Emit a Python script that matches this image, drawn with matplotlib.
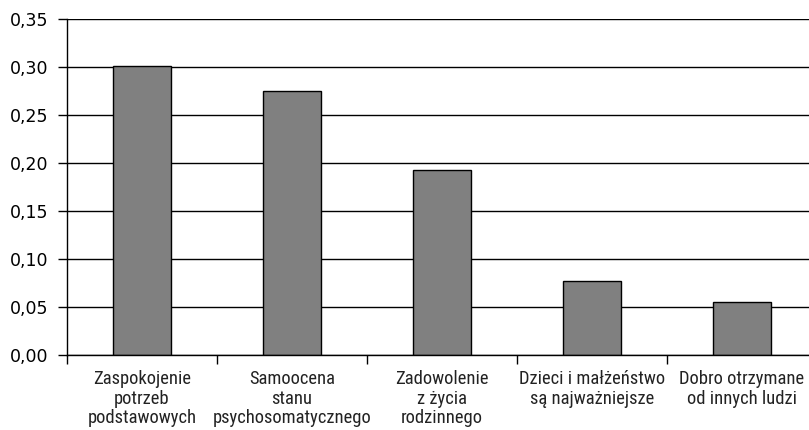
import numpy as np
import matplotlib.pyplot as plt
from matplotlib import font_manager
from matplotlib.font_manager import FontProperties

categories = [
    'Zaspokojenie\npotrzeb\npodstawowych',
    'Samoocena\nstanu\npsychosomatycznego',
    'Zadowolenie\nz życia\nrodzinnego',
    'Dzieci i małżeństwo\nsą najważniejsze',
    'Dobro otrzymane\nod innych ludzi',
]
values = [0.301, 0.275, 0.193, 0.077, 0.055]
y_ticks = [0.00, 0.05, 0.10, 0.15, 0.20, 0.25, 0.30, 0.35]


def narrow_font():
    # look for a condensed sans face, else plain Liberation Sans
    fonts = font_manager.fontManager.ttflist
    wanted = ['LiberationSansNarrow-Regular', 'RobotoCondensed-Regular',
              'DejaVuSansCondensed.ttf', 'NotoSans-Condensed',
              'OpenSans-Condensed', 'OpenSans_Condensed-Regular']
    for w in wanted:
        for f in fonts:
            if w.lower() in f.fname.lower().replace(' ', ''):
                return FontProperties(fname=f.fname)
    for f in fonts:
        if (f.stretch in ('condensed', 'semi-condensed') and
                f.style == 'normal' and f.weight in (400, 'normal', 'regular')):
            return FontProperties(fname=f.fname)
    return FontProperties(family='Liberation Sans')


def main():
    fig = plt.figure(figsize=(8.09, 4.30), dpi=100)
    # right edge runs past the figure like in the original
    ax = fig.add_axes([67 / 809, 75 / 430, 750 / 809, 336 / 430])

    index = np.arange(len(categories))
    ax.bar(index, values, 0.39, color='#808080', edgecolor='black',
           linewidth=1, zorder=3)

    ax.set_xlim(-0.5, len(categories) - 0.5)
    ax.set_ylim(0, 0.35)
    ax.set_yticks(y_ticks)
    ax.set_yticklabels([('%.2f' % v).replace('.', ',') for v in y_ticks],
                       fontsize=12.5, family='DejaVu Sans')
    ax.yaxis.grid(True, color='black', linewidth=1, zorder=0)

    ax.set_xticks([-0.5] + list(index + 0.5))
    ax.set_xticklabels([])

    # size the category labels so "Zaspokojenie" is about 97 px wide
    fp = narrow_font()
    fp.set_size(10)
    r = fig.canvas.get_renderer()
    t = fig.text(0, 0, 'Zaspokojenie', fontproperties=fp)
    w = t.get_window_extent(r).width
    t.remove()
    size = min(13.5, 10 * 97 / w)
    fp.set_size(size)

    ax.set_xticks(index, minor=True)
    ax.set_xticklabels(categories, minor=True, fontproperties=fp,
                       linespacing=1.1, color='#222222')
    ax.tick_params(axis='x', which='minor', length=0, pad=11)
    ax.tick_params(axis='x', which='major', length=6.5, width=1,
                   direction='out')
    ax.tick_params(axis='y', length=6.5, width=1, direction='out', pad=7)

    ax.spines['top'].set_visible(False)
    ax.spines['right'].set_visible(False)
    for s in ('left', 'bottom'):
        ax.spines[s].set_linewidth(1)
        ax.spines[s].set_zorder(4)

    fig.savefig('out.png', dpi=100)


if __name__ == '__main__':
    main()
